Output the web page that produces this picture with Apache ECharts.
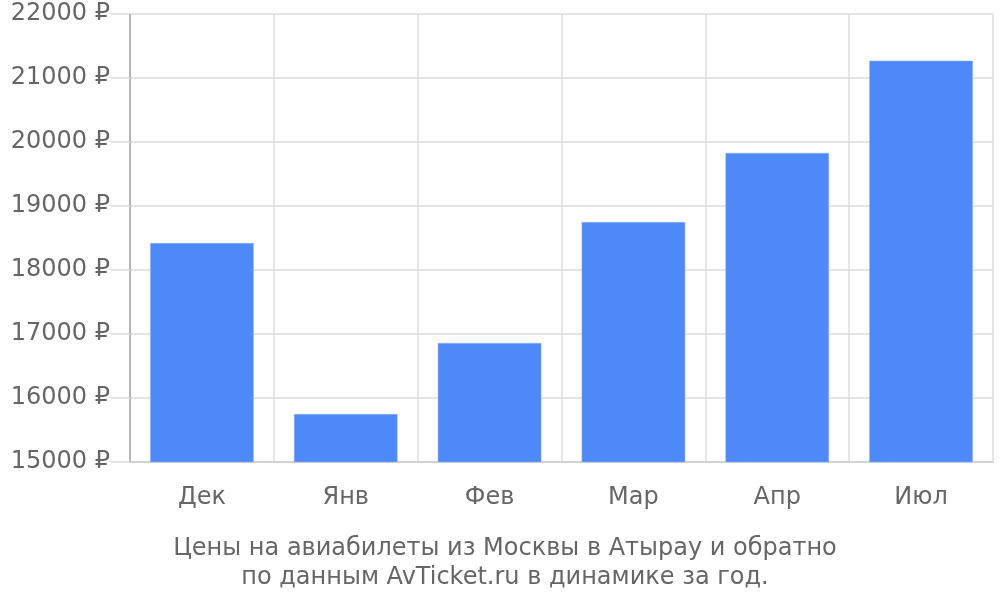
<!DOCTYPE html>
<html>
<head>
<meta charset="utf-8">
<script src="https://cdn.jsdelivr.net/npm/echarts@6/dist/echarts.min.js"></script>
<style>
html, body { margin: 0; padding: 0; background: #fff; }
#main { width: 1000px; height: 600px; }
</style>
</head>
<body>
<div id="main"></div>
<script>
var myChart = echarts.init(document.getElementById("main"));

// месяцы и цены (руб.)
var months = ["Дек", "Янв", "Фев", "Мар", "Апр", "Июл"];
var prices = [18420, 15750, 16860, 18750, 19830, 21270];
var titleLines = [
    "Цены на авиабилеты из Москвы в Атырау и обратно",
    "по данным AvTicket.ru в динамике за год."
];

var textColor = '#666666';
var font = '"DejaVu Sans", sans-serif';

var option = {
    animation: false,
    title: {
        text: titleLines.join('\n'),
        left: 500,
        textAlign: 'center',
        top: 529,
        textStyle: {
            color: textColor,
            fontFamily: font,
            fontSize: 24,
            fontWeight: 'normal',
            lineHeight: 29
        }
    },
    grid: {
        left: 130,
        right: 7,
        top: 14,
        bottom: 138
    },
    xAxis: {
        type: 'category',
        data: months,
        axisLine: { lineStyle: { color: '#cccccc', width: 1.5 } },
        axisTick: { length: 18, lineStyle: { color: '#dddddd', width: 1.5 } },
        splitLine: { show: true, lineStyle: { color: '#dddddd', width: 1.5 } },
        axisLabel: {
            color: textColor,
            fontFamily: font,
            fontSize: 24,
            margin: 24
        }
    },
    yAxis: {
        type: 'value',
        min: 15000,
        max: 22000,
        interval: 1000,
        axisLine: { show: true, lineStyle: { color: '#aaaaaa', width: 1.5 } },
        axisTick: { show: true, length: 20, lineStyle: { color: '#dddddd', width: 1.5 } },
        splitLine: { lineStyle: { color: '#dddddd', width: 1.5 } },
        axisLabel: {
            color: textColor,
            fontFamily: font,
            fontSize: 24,
            margin: 20,
            formatter: function (value) {
                return value + ' ₽';
            }
        }
    },
    series: [
        {
            type: 'bar',
            data: prices,
            barCategoryGap: '28%',
            itemStyle: {
                color: '#4d89f9',
                borderColor: '#8fb4fb',
                borderWidth: 0.5
            }
        }
    ]
};

myChart.setOption(option);
</script>
</body>
</html>
